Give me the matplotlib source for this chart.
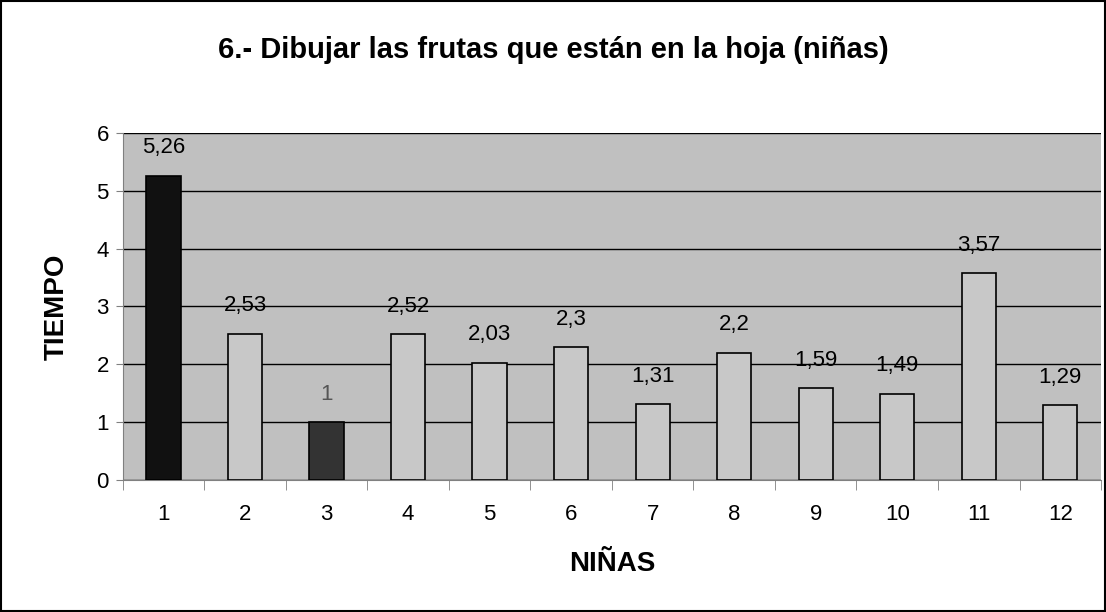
import matplotlib.pyplot as plt

plt.rcParams['font.family'] = ['Liberation Sans', 'DejaVu Sans']

ninas = ['1', '2', '3', '4', '5', '6', '7', '8', '9', '10', '11', '12']
tiempo = [5.26, 2.53, 1, 2.52, 2.03, 2.3, 1.31, 2.2, 1.59, 1.49, 3.57, 1.29]
labels = ['5,26', '2,53', '1', '2,52', '2,03', '2,3', '1,31', '2,2', '1,59', '1,49', '3,57', '1,29']

colors = ['#c8c8c8'] * 12
colors[0] = '#111111'
colors[2] = '#333333'
label_colors = ['black'] * 12
label_colors[2] = '#555555'

fig = plt.figure(figsize=(11.06, 6.12), dpi=100)
ax = fig.add_axes([0.111, 0.2157, 0.8845, 0.5673])
ax.set_facecolor('#c0c0c0')

x = range(len(ninas))
bars = ax.bar(x, tiempo, width=0.42, color=colors, edgecolor='black', linewidth=1.2, zorder=3)
for b, lab, c in zip(bars, labels, label_colors):
    ax.text(b.get_x() + b.get_width() / 2, b.get_height() + 0.3, lab,
            ha='center', va='bottom', fontsize=16, color=c, zorder=4)

ax.set_xlim(-0.5, len(ninas) - 0.5)
ax.set_ylim(0, 6)
ax.set_yticks(range(7))
ax.set_xticks(x)
ax.set_xticklabels(ninas)
ax.set_xticks([i - 0.5 for i in range(len(ninas) + 1)], minor=True)
ax.tick_params(axis='x', which='major', length=0, pad=17, labelsize=16)
ax.tick_params(axis='x', which='minor', length=7, direction='out', color='#808080')
ax.tick_params(axis='y', length=5, labelsize=16, pad=5, color='#808080')
ax.grid(axis='y', color='black', linewidth=1, zorder=1)

for side in ['top', 'right']:
    ax.spines[side].set_visible(False)
ax.spines['left'].set_color('#808080')
ax.spines['bottom'].set_color('#808080')

ax.set_xlabel('NIÑAS', fontsize=20, fontweight='bold', labelpad=19)
ax.set_ylabel('TIEMPO', fontsize=20, fontweight='bold', labelpad=19)
fig.text(0.5, 0.918, '6.- Dibujar las frutas que están en la hoja (niñas)',
         ha='center', va='center', fontsize=21, fontweight='bold')

fig.patches.append(plt.Rectangle((0.001, 0.001), 0.998, 0.998, transform=fig.transFigure,
                                 fill=False, edgecolor='black', linewidth=1.5))

fig.savefig('out.png', dpi=100)
